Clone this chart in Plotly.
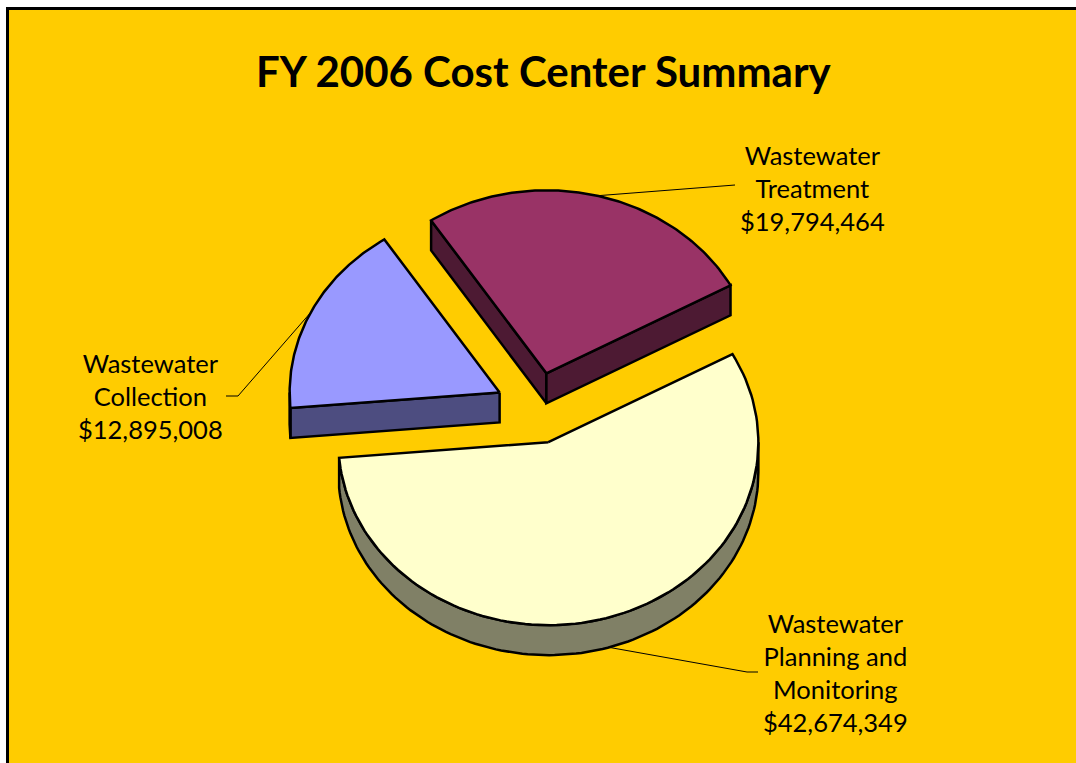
import numpy as np
import plotly.graph_objects as go

# Cost centers, in clockwise order starting from the first slice
centers = ["Wastewater Treatment", "Wastewater Planning and Monitoring", "Wastewater Collection"]
label_text = ["Wastewater<br>Treatment", "Wastewater<br>Planning and<br>Monitoring", "Wastewater<br>Collection"]
amounts = [19794464, 42674349, 12895008]
title_text = "FY 2006 Cost Center Summary"

# Colors: top face and side face of each slice
top_colors = ["#993366", "#FFFFCC", "#9999FF"]
side_colors = ["#4D1A33", "#808066", "#4D4D80"]

W, H = 1076, 763
BG = "#FFCC00"
FONT = "Lato"

# 3-D pie geometry (pixel units on the page)
cx, cy = 536.5, 408.0
rx, ry = 210.0, 183.0
depth = 30.0
explode = 41.0
start_angle = 123.3  # degrees, counter-clockwise from +x

# Label placement and leader-line elbows
label_pos = [(812, 188), (835, 672), (150, 396)]
elbows = [[(735, 185)], [(747, 672), (758, 672)], [(238, 396), (226, 396)]]

total = float(sum(amounts))
fig = go.Figure()


def arc(ax, ay, t0, t1, n=120, dy=0.0):
    t = np.radians(np.linspace(t0, t1, n))
    return ax + rx * np.cos(t), ay - ry * np.sin(t) + dy


def poly(xs, ys, color):
    fig.add_trace(go.Scatter(
        x=list(xs), y=list(ys), mode="lines", fill="toself",
        fillcolor=color, line=dict(color="black", width=2.5),
        hoverinfo="skip", showlegend=False))


slices = []
a = start_angle
for i, v in enumerate(amounts):
    sweep = v / total * 360.0
    a1, a2 = a, a - sweep
    mid = (a1 + a2) / 2.0
    m = np.radians(mid)
    ax = cx + explode * np.cos(m)
    ay = cy - explode * (ry / rx) * np.sin(m)
    slices.append(dict(i=i, a1=a1, a2=a2, mid=mid, ax=ax, ay=ay))
    a = a2

# paint back-to-front
for s in sorted(slices, key=lambda d: d["ay"]):
    i, a1, a2, ax, ay = s["i"], s["a1"], s["a2"], s["ax"], s["ay"]
    # radial side faces that face the viewer
    for ang, vis in ((a1, np.cos(np.radians(a1)) < 0), (a2, np.cos(np.radians(a2)) > 0)):
        if vis:
            px = ax + rx * np.cos(np.radians(ang))
            py = ay - ry * np.sin(np.radians(ang))
            poly([ax, px, px, ax, ax], [ay, py, py + depth, ay + depth, ay], side_colors[i])
    # outer rim, front (lower) half only
    for lo_h, hi_h in ((-180, 0), (-540, -360), (180, 360)):
        lo, hi = max(a2, lo_h), min(a1, hi_h)
        if hi > lo:
            tx, tyy = arc(ax, ay, lo, hi)
            bx, byy = arc(ax, ay, hi, lo, dy=depth)
            poly(np.r_[tx, bx, tx[0]], np.r_[tyy, byy, tyy[0]], side_colors[i])
    # top face
    tx, tyy = arc(ax, ay, a1, a2)
    poly(np.r_[ax, tx, ax], np.r_[ay, tyy, ay], top_colors[i])

# leader lines and labels
for s in slices:
    i = s["i"]
    m = np.radians(s["mid"])
    px = s["ax"] + rx * np.cos(m)
    py = s["ay"] - ry * np.sin(m)
    if np.sin(m) < 0:
        py += depth
    xs = [px] + [p[0] for p in elbows[i]]
    ys = [py] + [p[1] for p in elbows[i]]
    fig.add_trace(go.Scatter(x=xs, y=ys, mode="lines",
                             line=dict(color="black", width=1),
                             hoverinfo="skip", showlegend=False))
    fig.add_annotation(
        x=label_pos[i][0], y=label_pos[i][1], xref="x", yref="y",
        text=f"{label_text[i]}<br>${amounts[i]:,}", showarrow=False,
        xanchor="center", yanchor="middle", align="center",
        font=dict(family=FONT, size=25.5, color="black"))

fig.add_annotation(
    x=544, y=71, xref="x", yref="y", text=f"<b>{title_text}</b>",
    showarrow=False, xanchor="center", yanchor="middle",
    font=dict(family=FONT, size=42, color="black"))

# chart area frame
fig.add_shape(type="rect", xref="x", yref="y", x0=7.5, y0=8.5, x1=W + 20, y1=H + 20,
              line=dict(color="black", width=3), fillcolor=BG, layer="below")

fig.update_layout(
    width=W, height=H, margin=dict(l=0, r=0, t=0, b=0),
    paper_bgcolor="white", plot_bgcolor="white",
    xaxis=dict(range=[0, W], visible=False, fixedrange=True),
    yaxis=dict(range=[H, 0], visible=False, fixedrange=True),
    showlegend=False,
)

fig.write_html("out.html")
